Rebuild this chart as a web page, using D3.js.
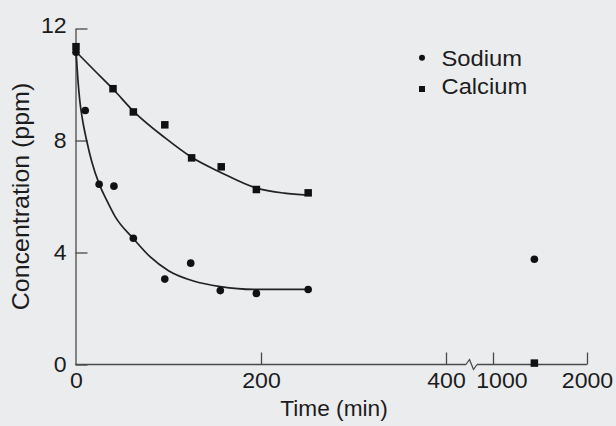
<!DOCTYPE html>
<html><head><meta charset="utf-8">
<script src="https://cdn.jsdelivr.net/npm/d3@7"></script>
<style>html,body{margin:0;padding:0;background:#ebecee;} svg{display:block;}</style>
</head><body><svg id="chart" width="616" height="426"></svg>
<script>
// ---- data ----
const sodiumTime  = [0, 10, 25, 41, 62, 96, 124, 156, 195, 251, 1440];
const sodiumConc  = [11.15, 9.07, 6.44, 6.37, 4.51, 3.05, 3.62, 2.64, 2.54, 2.68, 3.76];
const calciumTime = [0, 40, 62, 96, 125, 157, 195, 251, 1440];
const calciumConc = [11.35, 9.85, 9.02, 8.56, 7.38, 7.06, 6.25, 6.13, 0.05];
// fitted curves as drawn in the figure
const sodiumFitTime  = [0, 2, 4, 7, 11.5, 17, 25, 33, 42, 62, 80, 100, 127, 156, 192, 251];
const sodiumFitConc  = [11.2, 10.2, 9.45, 8.75, 8.0, 7.25, 6.45, 5.88, 5.3, 4.5, 3.85, 3.35, 2.98, 2.78, 2.68, 2.68];
const calciumFitTime = [0, 20, 40, 62, 96, 125, 157, 195, 225, 251];
const calciumFitConc = [11.17, 10.5, 9.84, 9.05, 8.1, 7.4, 6.85, 6.3, 6.12, 6.05];
const yTicks = [0, 4, 8, 12];
const xTicksLow = [0, 200, 400];
const xTicksHigh = [1000, 2000];
const legendLabels = ["Sodium", "Calcium"];
const yTitle = "Concentration (ppm)";
const xTitle = "Time (min)";

// ---- layout ----
const svg = d3.select("#chart");
const FONT = "'Liberation Sans', Arial, Helvetica, sans-serif";
const INK = "#1c1c1c";
const AX = "#4a4a4a";
const axisY = 364.5, axisX = 75.5;
const breakL = 466, breakR = 477;

const y = d3.scaleLinear().domain([0, 12]).range([364.5, 28.5]);
const xLow = d3.scaleLinear().domain([0, 400]).range([76, 446]);
const xHigh = d3.scaleLinear().domain([1000, 2000]).range([493, 587]);
const x = t => (t <= 400 ? xLow(t) : xHigh(t));

// ---- axes ----
const yAxis = svg.append("g").attr("transform", `translate(${axisX},0)`)
  .call(d3.axisLeft(y).tickValues(yTicks).tickSizeInner(-12).tickSizeOuter(0).tickPadding(8.5).tickFormat(d3.format("d")));
const xAxLow = svg.append("g").attr("transform", `translate(0,${axisY})`)
  .call(d3.axisBottom(xLow).tickValues(xTicksLow).tickSizeInner(-12).tickSizeOuter(0).tickPadding(8).tickFormat(d3.format("d")));
const xAxHigh = svg.append("g").attr("transform", `translate(0,${axisY})`)
  .call(d3.axisBottom(xHigh).tickValues(xTicksHigh).tickSizeInner(-12).tickSizeOuter(0).tickPadding(8).tickFormat(d3.format("d")));

[yAxis, xAxLow, xAxHigh].forEach(g => {
  g.attr("font-family", FONT).attr("font-size", 22);
  g.selectAll(".tick line").attr("stroke", AX).attr("stroke-width", 1.3);
  g.selectAll(".tick text").attr("fill", INK).attr("transform", "scale(1.05,1)");
});
yAxis.select(".domain").attr("stroke", AX).attr("stroke-width", 1.3);
// top label sits slightly above its tick
yAxis.selectAll(".tick").filter(d => d === 12).select("text").attr("y", -3.5);
xAxLow.select(".domain").remove();
xAxHigh.select(".domain").remove();
// hide the 0 tick line on x (coincides with y axis)
xAxLow.selectAll(".tick").filter(d => d === 0).select("line").remove();
// the "1000" label sits right of its tick
xAxHigh.selectAll(".tick").filter(d => d === 1000).select("text").attr("x", 8);

// x baseline with break
const base = svg.append("g").attr("fill", "none").attr("stroke", AX).attr("stroke-width", 1.3);
base.append("path").attr("d", d3.line()([[xLow(0) - 0.5, axisY], [breakL, axisY]]));
base.append("path").attr("d", d3.line()([[breakL, axisY], [breakL + 3.5, axisY - 5], [breakL + 7.5, axisY + 5], [breakR, axisY]]));
base.append("path").attr("d", d3.line()([[breakR, axisY], [xHigh(2000), axisY]]));

// ---- fitted curves ----
const line = d3.line().x(d => x(d[0])).y(d => y(d[1])).curve(d3.curveMonotoneX);
svg.append("path").attr("d", line(d3.zip(sodiumFitTime, sodiumFitConc)))
  .attr("fill", "none").attr("stroke", "#222").attr("stroke-width", 1.7);
svg.append("path").attr("d", line(d3.zip(calciumFitTime, calciumFitConc)))
  .attr("fill", "none").attr("stroke", "#222").attr("stroke-width", 1.7);

// ---- points ----
svg.append("g").selectAll("circle").data(d3.zip(sodiumTime, sodiumConc)).join("circle")
  .attr("cx", d => x(d[0])).attr("cy", d => y(d[1])).attr("r", 3.8).attr("fill", "#111");
const sq = 7.5;
svg.append("g").selectAll("rect").data(d3.zip(calciumTime, calciumConc)).join("rect")
  .attr("x", d => x(d[0]) - sq / 2).attr("y", d => y(d[1]) - sq / 2)
  .attr("width", sq).attr("height", sq).attr("fill", "#111");

// ---- text helper ----
function label(tx, ty, str, size, anchor, sx, rot) {
  const g = svg.append("g").attr("transform", `translate(${tx},${ty})` + (rot ? ` rotate(${rot})` : ""));
  g.append("text").text(str).attr("font-family", FONT).attr("font-size", size)
    .attr("text-anchor", anchor).attr("fill", INK).attr("transform", `scale(${sx},1)`);
  return g;
}

// ---- titles ----
label(334, 415.5, xTitle, 22, "middle", 1.03, 0);
label(29, 196.5, yTitle, 24, "middle", 1.04, -90);

// ---- legend ----
const legX = 422, legY = [57.7, 89];
svg.append("circle").attr("cx", legX).attr("cy", legY[0]).attr("r", 3).attr("fill", "#111");
svg.append("rect").attr("x", legX - 3).attr("y", legY[1] - 3).attr("width", 6).attr("height", 6).attr("fill", "#111");
label(441.5, 66, legendLabels[0], 22, "start", 1.08, 0);
label(441.5, 94, legendLabels[1], 22, "start", 1.08, 0);
</script></body></html>
